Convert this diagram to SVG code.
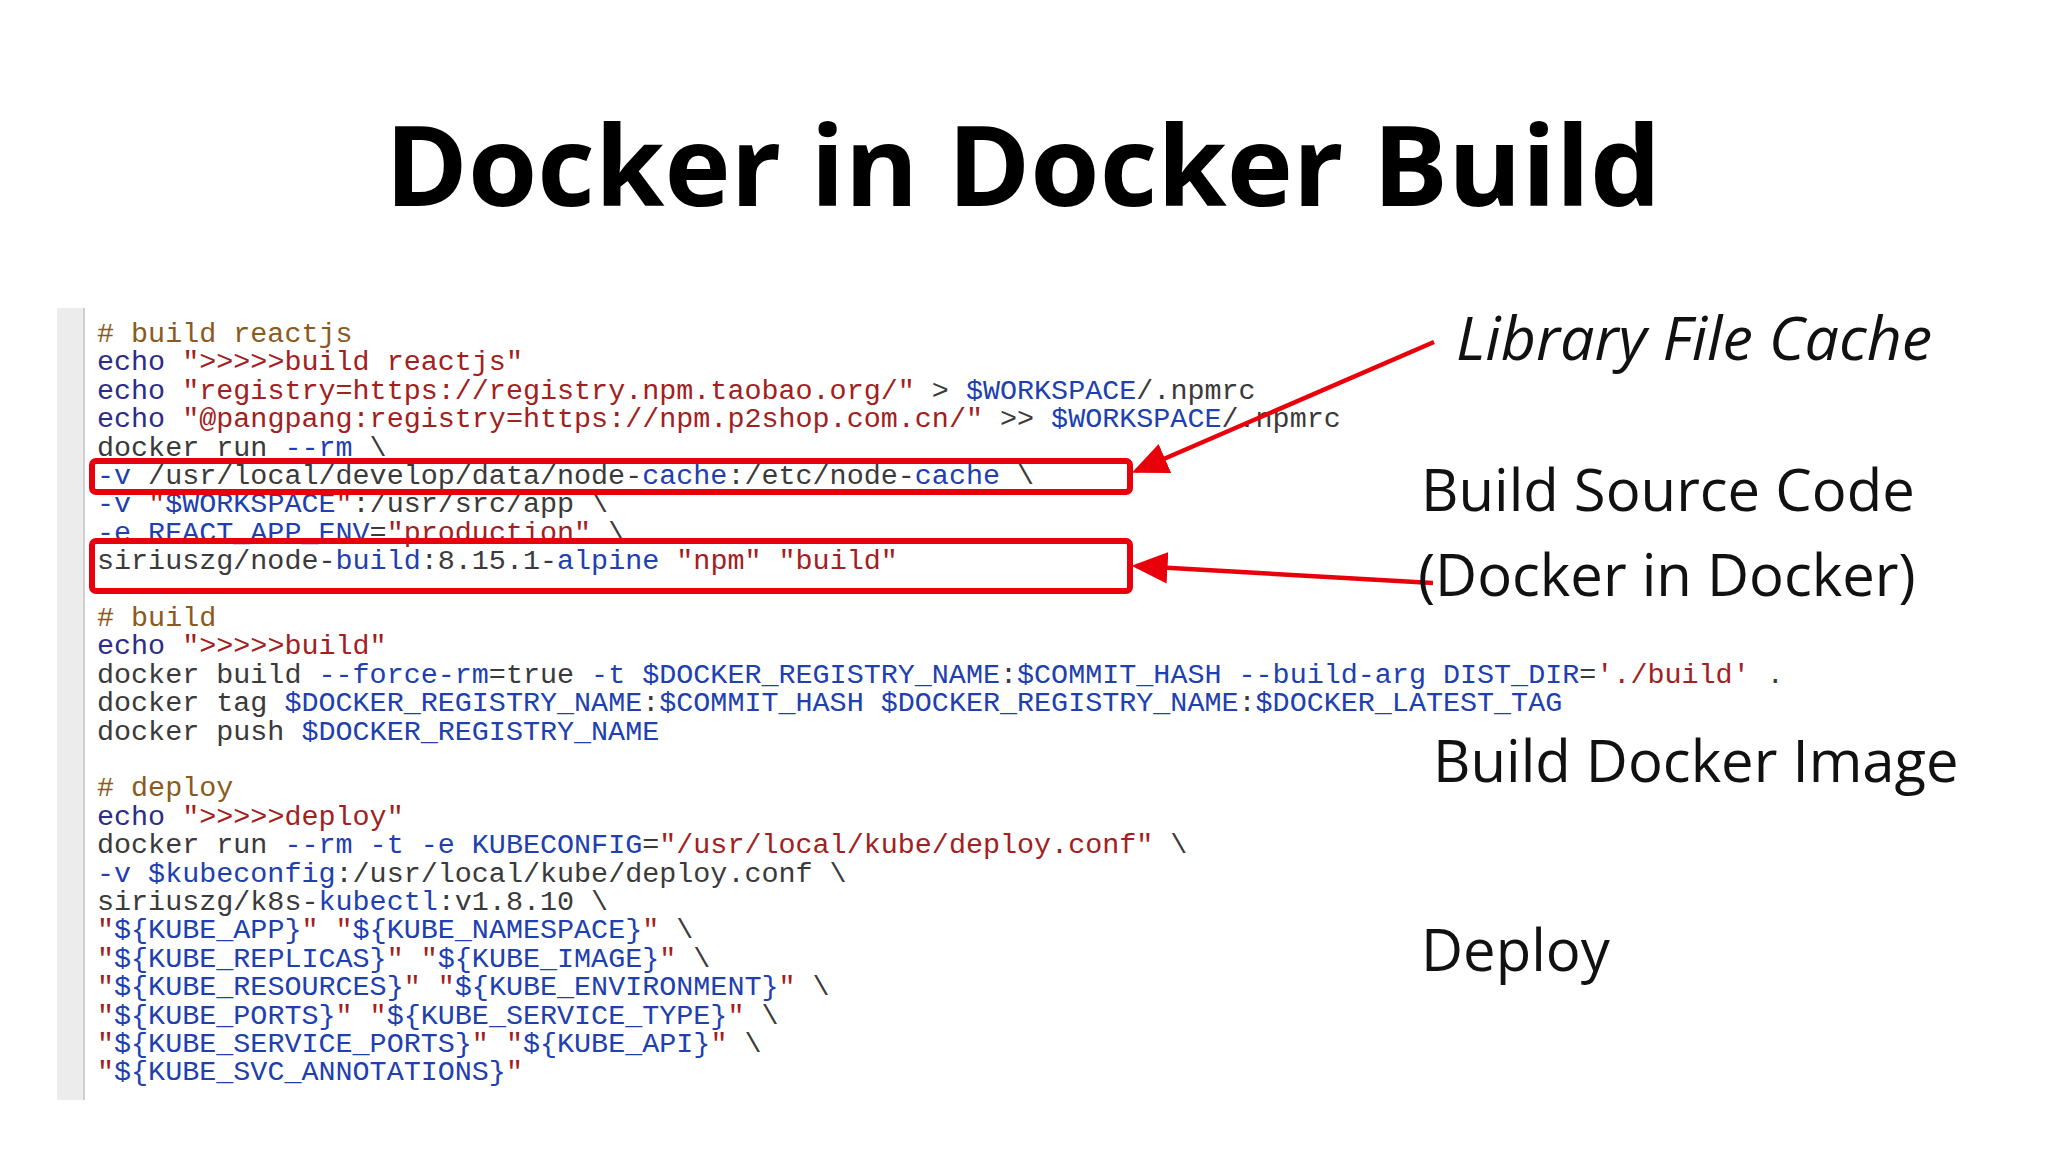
<svg xmlns="http://www.w3.org/2000/svg" width="2048" height="1152" viewBox="0 0 2048 1152">
<style>
.code{font-family:"Liberation Mono",monospace;font-size:28.4px;fill:#3a3a3a;white-space:pre}
.c{fill:#8b5a20}.k{fill:#2d2d88}.s{fill:#a32020}.v{fill:#2040b0}
.lbl{font-family:"Open Sans",sans-serif;font-size:58px;fill:#111}
.lbl.it{font-style:italic;font-size:61px}
.box{fill:none;stroke:#e8000b;stroke-width:6}
.arr{stroke:#e8000b;stroke-width:4.5;fill:none}
</style>
<defs><marker id="ah" markerWidth="8" markerHeight="8" refX="7" refY="4" orient="auto" markerUnits="strokeWidth"><path d="M0,0.5 L8,4 L0,7.5z" fill="#e8000b"/></marker></defs>
<rect width="2048" height="1152" fill="#fff"/>
<text x="1023" y="206" text-anchor="middle" font-family="Open Sans,sans-serif" font-weight="bold" font-size="112" fill="#000">Docker in Docker Build</text>
<rect x="57" y="308" width="27" height="792" fill="#ececec"/>
<line x1="84" y1="308" x2="84" y2="1100" stroke="#d0d0d0" stroke-width="2"/>
<g id="code" class="code" transform="translate(0,-3)">
<text x="97" y="345"><tspan class="c"># build reactjs</tspan></text>
<text x="97" y="373.4"><tspan class="k">echo</tspan> <tspan class="s">"&gt;&gt;&gt;&gt;&gt;build reactjs"</tspan></text>
<text x="97" y="401.8"><tspan class="k">echo</tspan> <tspan class="s">"registry=https://registry.npm.taobao.org/"</tspan> &gt; <tspan class="v">$WORKSPACE</tspan>/.npmrc</text>
<text x="97" y="430.2"><tspan class="k">echo</tspan> <tspan class="s">"@pangpang:registry=https://npm.p2shop.com.cn/"</tspan> &gt;&gt; <tspan class="v">$WORKSPACE</tspan>/.npmrc</text>
<text x="97" y="458.6">docker run <tspan class="v">--rm</tspan> \</text>
<text x="97" y="487"><tspan class="v">-v</tspan> /usr/local/develop/data/node-<tspan class="v">cache</tspan>:/etc/node-<tspan class="v">cache</tspan> \</text>
<text x="97" y="515.4"><tspan class="v">-v</tspan> <tspan class="s">"</tspan><tspan class="v">$WORKSPACE</tspan><tspan class="s">"</tspan>:/usr/src/app \</text>
<text x="97" y="543.8"><tspan class="v">-e REACT_APP_ENV</tspan>=<tspan class="s">"production"</tspan> \</text>
<text x="97" y="572.2">siriuszg/node-<tspan class="v">build</tspan>:8.15.1-<tspan class="v">alpine</tspan> <tspan class="s">"npm"</tspan> <tspan class="s">"build"</tspan></text>
<text x="97" y="629"><tspan class="c"># build</tspan></text>
<text x="97" y="657.4"><tspan class="k">echo</tspan> <tspan class="s">"&gt;&gt;&gt;&gt;&gt;build"</tspan></text>
<text x="97" y="685.8">docker build <tspan class="v">--force-rm</tspan>=true <tspan class="v">-t $DOCKER_REGISTRY_NAME</tspan>:<tspan class="v">$COMMIT_HASH --build-arg DIST_DIR</tspan>=<tspan class="s">'./build'</tspan> .</text>
<text x="97" y="714.2">docker tag <tspan class="v">$DOCKER_REGISTRY_NAME</tspan>:<tspan class="v">$COMMIT_HASH $DOCKER_REGISTRY_NAME</tspan>:<tspan class="v">$DOCKER_LATEST_TAG</tspan></text>
<text x="97" y="742.6">docker push <tspan class="v">$DOCKER_REGISTRY_NAME</tspan></text>
<text x="97" y="799.4"><tspan class="c"># deploy</tspan></text>
<text x="97" y="827.8"><tspan class="k">echo</tspan> <tspan class="s">"&gt;&gt;&gt;&gt;&gt;deploy"</tspan></text>
<text x="97" y="856.2">docker run <tspan class="v">--rm -t -e KUBECONFIG</tspan>=<tspan class="s">"/usr/local/kube/deploy.conf"</tspan> \</text>
<text x="97" y="884.6"><tspan class="v">-v $kubeconfig</tspan>:/usr/local/kube/deploy.conf \</text>
<text x="97" y="913">siriuszg/k8s-<tspan class="v">kubectl</tspan>:v1.8.10 \</text>
<text x="97" y="941.4"><tspan class="s">"</tspan><tspan class="v">${KUBE_APP}</tspan><tspan class="s">" "</tspan><tspan class="v">${KUBE_NAMESPACE}</tspan><tspan class="s">"</tspan> \</text>
<text x="97" y="969.8"><tspan class="s">"</tspan><tspan class="v">${KUBE_REPLICAS}</tspan><tspan class="s">" "</tspan><tspan class="v">${KUBE_IMAGE}</tspan><tspan class="s">"</tspan> \</text>
<text x="97" y="998.2"><tspan class="s">"</tspan><tspan class="v">${KUBE_RESOURCES}</tspan><tspan class="s">" "</tspan><tspan class="v">${KUBE_ENVIRONMENT}</tspan><tspan class="s">"</tspan> \</text>
<text x="97" y="1026.6"><tspan class="s">"</tspan><tspan class="v">${KUBE_PORTS}</tspan><tspan class="s">" "</tspan><tspan class="v">${KUBE_SERVICE_TYPE}</tspan><tspan class="s">"</tspan> \</text>
<text x="97" y="1055"><tspan class="s">"</tspan><tspan class="v">${KUBE_SERVICE_PORTS}</tspan><tspan class="s">" "</tspan><tspan class="v">${KUBE_API}</tspan><tspan class="s">"</tspan> \</text>
<text x="97" y="1083.4"><tspan class="s">"</tspan><tspan class="v">${KUBE_SVC_ANNOTATIONS}</tspan><tspan class="s">"</tspan></text>
</g>
<g id="box-cache"><rect class="box" x="92" y="461" width="1038" height="31" rx="4"/></g>
<g id="box-build"><rect class="box" x="92" y="541" width="1038" height="50" rx="4"/></g>
<g id="connectors">
<line class="arr" x1="1434" y1="342" x2="1136" y2="471" marker-end="url(#ah)"/>
<line class="arr" x1="1433" y1="583" x2="1136" y2="566" marker-end="url(#ah)"/>
</g>
<g id="lbl-cache"><text class="lbl it" x="1456" y="360">Library File Cache</text></g>
<g id="lbl-src"><text class="lbl" x="1421" y="511">Build Source Code</text><text class="lbl" x="1418" y="596">(Docker in Docker)</text></g>
<g id="lbl-img"><text class="lbl" x="1433" y="782">Build Docker Image</text></g>
<g id="lbl-deploy"><text class="lbl" x="1421" y="971">Deploy</text></g>
</svg>
